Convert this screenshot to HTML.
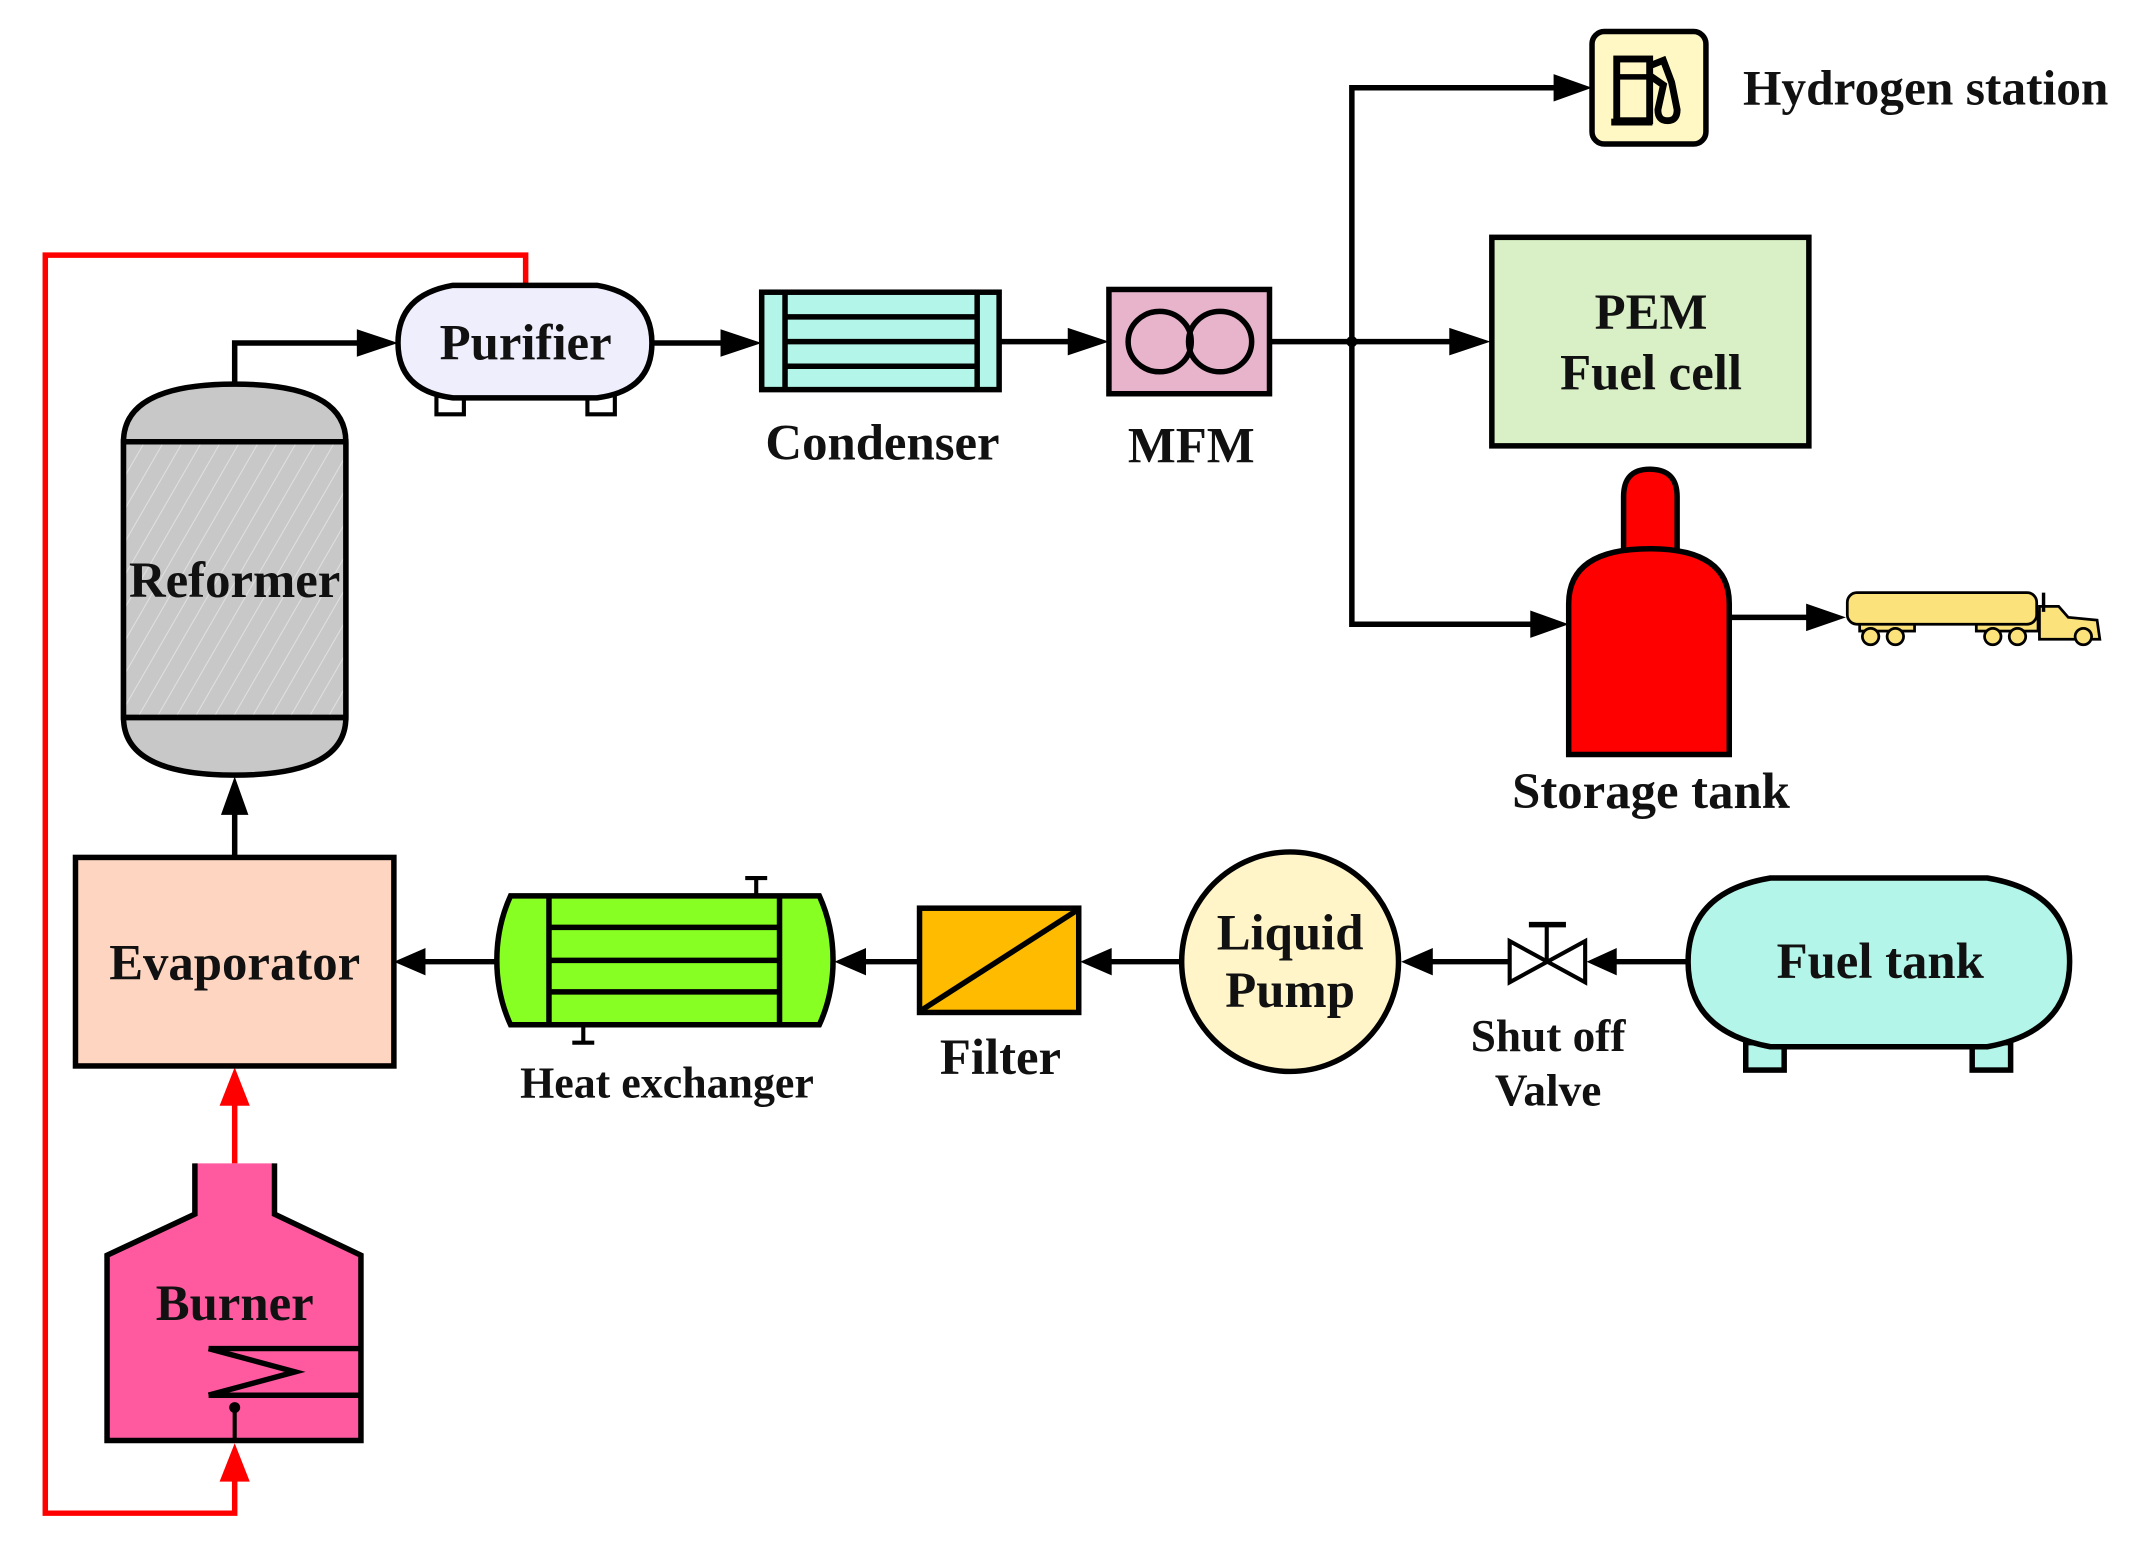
<!DOCTYPE html>
<html><head><meta charset="utf-8"><style>
html,body{margin:0;padding:0;background:#fff;}
svg{display:block;}
text{font-family:"Liberation Serif",serif;font-weight:bold;fill:#111;}
</style></head><body>
<svg width="2141" height="1542" viewBox="0 0 1560 1124" preserveAspectRatio="none" xmlns="http://www.w3.org/2000/svg">
<defs>
<pattern id="hatch" width="12" height="12" patternUnits="userSpaceOnUse" patternTransform="rotate(30)"><rect width="12" height="12" fill="#c8c8c8"/><line x1="0" y1="0" x2="0" y2="12" stroke="#e0e0e0" stroke-width="1.5"/></pattern>
</defs>
<g stroke="#000" stroke-width="4" fill="none">
<polyline points="383,208 383,186 33,186 33,1103 171,1103 171,1078" stroke="#ff0000" stroke-width="4"/>
<path d="M160,1080 L171,1052 L182,1080 z" fill="#ff0000" stroke="none"/>
<line x1="171" y1="848" x2="171" y2="805" stroke="#ff0000"/>
<path d="M160,806 L171,778 L182,806 z" fill="#ff0000" stroke="none"/>

<path d="M90,322 Q90,280 171,280 Q252,280 252,322 L252,523 Q252,565 171,565 Q90,565 90,523 Z" fill="#c8c8c8"/>
<rect x="90" y="322" width="162" height="201" fill="url(#hatch)"/>
<line x1="90" y1="322" x2="252" y2="322"/>
<line x1="90" y1="523" x2="252" y2="523"/>
<polyline points="171,280 171,250 262,250"/>
<path d="M260,240 L290,250 L260,260 z" fill="#000" stroke="none"/>

<rect x="318" y="288" width="20" height="14" fill="#fff" stroke-width="3"/>
<rect x="428" y="288" width="20" height="14" fill="#fff" stroke-width="3"/>
<path d="M330,208 L435,208 Q475,215 475,250 Q475,285 435,290 L330,290 Q290,285 290,250 Q290,215 330,208 Z" fill="#efeefc"/>
<line x1="475" y1="250" x2="528" y2="250"/>
<path d="M525,240 L555,250 L525,260 z" fill="#000" stroke="none"/>

<rect x="555" y="213" width="173" height="71" fill="#b3f5e8"/>
<line x1="572" y1="213" x2="572" y2="284"/>
<line x1="712" y1="213" x2="712" y2="284"/>
<line x1="572" y1="231" x2="712" y2="231"/>
<line x1="572" y1="249" x2="712" y2="249"/>
<line x1="572" y1="267" x2="712" y2="267"/>
<line x1="728" y1="249" x2="781" y2="249"/>
<path d="M778,239 L808,249 L778,259 z" fill="#000" stroke="none"/>

<rect x="808" y="211" width="117" height="76" fill="#e8b4cc"/>
<ellipse cx="845" cy="249" rx="23" ry="22"/>
<ellipse cx="889" cy="249" rx="23" ry="22"/>

<line x1="925" y1="249" x2="1058" y2="249"/>
<path d="M1056,239 L1086,249 L1056,259 z" fill="#000" stroke="none"/>
<circle cx="985" cy="249" r="4" fill="#000" stroke="none"/>
<polyline points="1133,64 985,64 985,455 1116,455"/>
<path d="M1132,54 L1160,64 L1132,74 z" fill="#000" stroke="none"/>
<path d="M1115,445 L1143,455 L1115,465 z" fill="#000" stroke="none"/>

<rect x="1160" y="23" width="83" height="82" rx="9" fill="#fff8c4"/>
<rect x="1178" y="43" width="24" height="45" fill="#fff8c4" stroke-width="5"/>
<line x1="1178" y1="56" x2="1202" y2="56" stroke-width="4"/>
<line x1="1174" y1="89" x2="1204" y2="89" stroke-width="5"/>
<path d="M1202,48 L1212,44 L1218,60 L1222,80 Q1222,88 1215,88 Q1208,88 1208,80 L1212,62 L1202,55" stroke-width="5"/>

<rect x="1087" y="173" width="231" height="152" fill="#d9f0c6"/>

<path d="M1183,400 L1183,362 Q1183,342 1202,342 Q1222,342 1222,362 L1222,400" fill="#ff0000"/>
<path d="M1143,550 L1143,440 Q1143,400 1202,400 Q1260,400 1260,440 L1260,550 Z" fill="#ff0000"/>
<line x1="1260" y1="450" x2="1318" y2="450"/>
<path d="M1316,440 L1345,450 L1316,460 z" fill="#000" stroke="none"/>

<g stroke-width="2" fill="#fbe27a">
<rect x="1355" y="446" width="40" height="14"/>
<rect x="1440" y="446" width="45" height="14"/>
<rect x="1346" y="432" width="138" height="23" rx="7"/>
<path d="M1486,442 L1500,442 L1507,450 L1528,452 L1530,466 L1486,466 Z"/>
<line x1="1489" y1="432" x2="1489" y2="446" stroke-width="2.5"/>
<circle cx="1363" cy="464" r="6"/><circle cx="1381" cy="464" r="6"/>
<circle cx="1452" cy="464" r="6"/><circle cx="1470" cy="464" r="6"/>
<circle cx="1518" cy="464" r="6"/>
</g>

<rect x="55" y="625" width="232" height="152" fill="#fdd5c0"/>
<line x1="171" y1="625" x2="171" y2="592"/>
<path d="M161,594 L171,566 L181,594 z" fill="#000" stroke="none"/>

<line x1="551" y1="653" x2="551" y2="641" stroke-width="3"/><line x1="543" y1="640" x2="559" y2="640" stroke-width="3"/>
<line x1="425" y1="747" x2="425" y2="759" stroke-width="3"/><line x1="417" y1="760" x2="433" y2="760" stroke-width="3"/>
<path d="M372,653 L597,653 Q607,675 607,700 Q607,725 597,747 L372,747 Q362,725 362,700 Q362,675 372,653 Z" fill="#88ff22"/>
<line x1="400" y1="653" x2="400" y2="747"/>
<line x1="568" y1="653" x2="568" y2="747"/>
<line x1="400" y1="676" x2="568" y2="676"/>
<line x1="400" y1="700" x2="568" y2="700"/>
<line x1="400" y1="723" x2="568" y2="723"/>
<line x1="362" y1="701" x2="308" y2="701"/>
<path d="M310,691 L287,701 L310,711 z" fill="#000" stroke="none"/>

<rect x="670" y="662" width="116" height="76" fill="#ffbb00"/>
<line x1="672" y1="736" x2="784" y2="664"/>
<line x1="670" y1="701" x2="629" y2="701"/>
<path d="M631,691 L608,701 L631,711 z" fill="#000" stroke="none"/>

<ellipse cx="940" cy="701" rx="79" ry="80" fill="#fff5c8"/>
<line x1="861" y1="701" x2="808" y2="701"/>
<path d="M810,691 L787,701 L810,711 z" fill="#000" stroke="none"/>

<line x1="1100" y1="701" x2="1042" y2="701"/>
<path d="M1044,691 L1021,701 L1044,711 z" fill="#000" stroke="none"/>
<path d="M1100,686 L1100,716 L1155,686 L1155,716 Z" fill="#fff" stroke-width="3"/>
<line x1="1127" y1="701" x2="1127" y2="674" stroke-width="3"/>
<line x1="1114" y1="674" x2="1141" y2="674" stroke-width="4"/>
<line x1="1230" y1="701" x2="1176" y2="701"/>
<path d="M1178,691 L1156,701 L1178,711 z" fill="#000" stroke="none"/>

<rect x="1272" y="760" width="28" height="20" fill="#b3f5e8"/>
<rect x="1437" y="760" width="28" height="20" fill="#b3f5e8"/>
<path d="M1290,640 L1448,640 Q1508,650 1508,701 Q1508,752 1448,763 L1290,763 Q1230,752 1230,701 Q1230,650 1290,640 Z" fill="#b3f5e8"/>

<path d="M142,848 L142,885 L78,915 L78,1050 L263,1050 L263,915 L200,885 L200,848" fill="#ff5aa0"/>
<line x1="152" y1="983" x2="263" y2="983"/>
<line x1="152" y1="1017" x2="263" y2="1017"/>
<polyline points="152,983 215,1000 152,1017"/>
<circle cx="171" cy="1026" r="4" fill="#000" stroke="none"/>
<line x1="171" y1="1026" x2="171" y2="1050" stroke-width="3"/>
</g>

<g font-size="37" text-anchor="middle">
<text x="383" y="262">Purifier</text>
<text x="171" y="435">Reformer</text>
<text x="643" y="335">Condenser</text>
<text x="868" y="337">MFM</text>
<text x="1203" y="240">PEM</text>
<text x="1203" y="284">Fuel cell</text>
<text x="1203" y="589">Storage tank</text>
<text x="171" y="714">Evaporator</text>
<text x="729" y="783">Filter</text>
<text x="940" y="692">Liquid</text>
<text x="940" y="734">Pump</text>
<text x="1370" y="713">Fuel tank</text>
<text x="171" y="962">Burner</text>
<text x="486" y="800" font-size="32">Heat exchanger</text>
<text x="1128" y="766" font-size="33">Shut off</text>
<text x="1128" y="806" font-size="33">Valve</text>
<text x="1270" y="76" text-anchor="start" font-size="36">Hydrogen station</text>
</g>
</svg>
</body></html>
